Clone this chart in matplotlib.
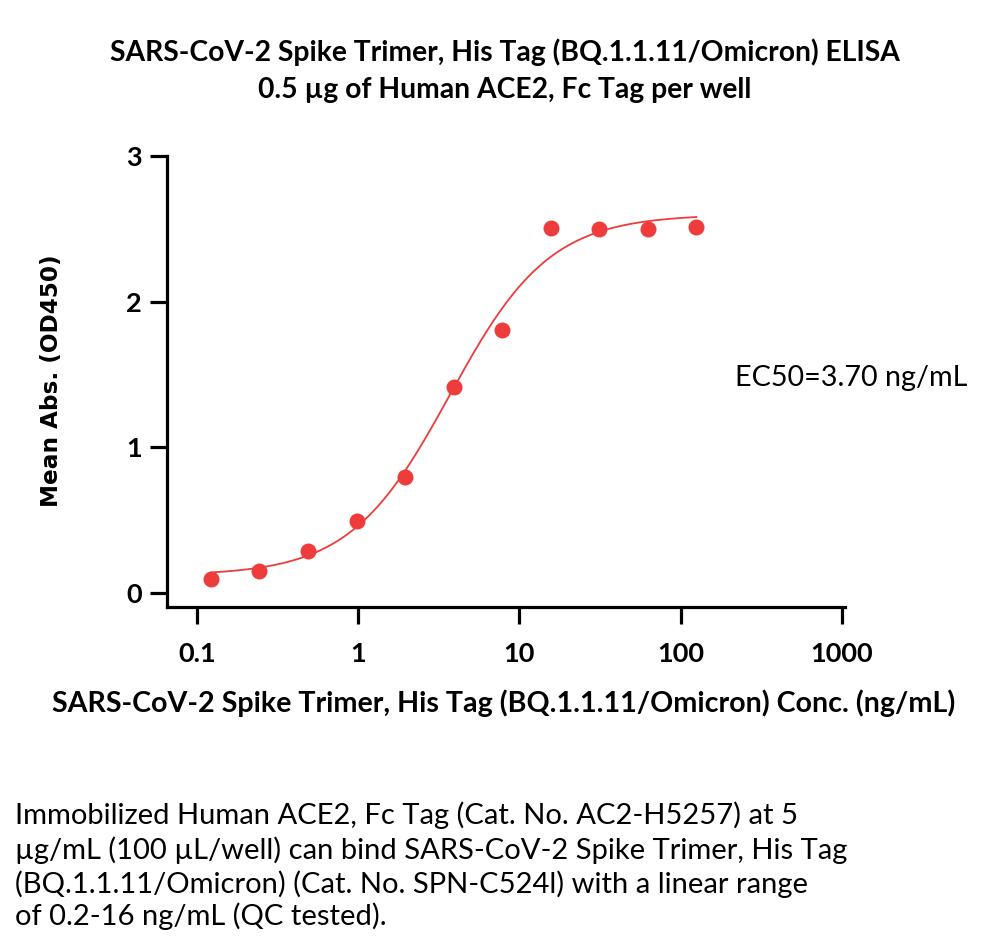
import numpy as np
import matplotlib
matplotlib.use("Agg")
import matplotlib.pyplot as plt

# Data
conc = [0.122, 0.244, 0.488, 0.977, 1.95, 3.91, 7.81, 15.6, 31.25, 62.5, 125.0]
od450 = [0.094, 0.151, 0.290, 0.496, 0.794, 1.412, 1.805, 2.505, 2.500, 2.500, 2.517]

# 4PL fit parameters
fit_bottom = 0.12
fit_top = 2.60
fit_ec50 = 3.70
fit_hill = 1.40

x_ticks = [0.1, 1, 10, 100, 1000]
x_tick_labels = ["0.1", "1", "10", "100", "1000"]
y_ticks = [0, 1, 2, 3]
y_tick_labels = ["0", "1", "2", "3"]

title1 = "SARS-CoV-2 Spike Trimer, His Tag (BQ.1.1.11/Omicron) ELISA"
title2 = "0.5 \u00b5g of Human ACE2, Fc Tag per well"
xlabel = "SARS-CoV-2 Spike Trimer, His Tag (BQ.1.1.11/Omicron) Conc. (ng/mL)"
ylabel = "Mean Abs. (OD450)"
ec50_text = "EC50=3.70 ng/mL"
caption = ["Immobilized Human ACE2, Fc Tag (Cat. No. AC2-H5257) at 5",
           "\u00b5g/mL (100 \u00b5L/well) can bind SARS-CoV-2 Spike Trimer, His Tag",
           "(BQ.1.1.11/Omicron) (Cat. No. SPN-C524l) with a linear range",
           "of 0.2-16 ng/mL (QC tested)."]

red = "#EE3B3B"
font = "Lato"

fig = plt.figure(figsize=(10, 9.41), dpi=100)
ax = fig.add_axes([0.167, 0.355, 0.678, 0.479])

xs = np.logspace(np.log10(conc[0]), np.log10(conc[-1]), 400)
ys = fit_bottom + (fit_top - fit_bottom) / (1 + (fit_ec50 / xs) ** fit_hill)
ax.plot(xs, ys, color=red, lw=1.3, zorder=2)
ax.plot(conc, od450, 'o', color=red, ms=11.5, mec='none', zorder=3, clip_on=False)

ax.set_xscale('log')
ax.set_xlim(10 ** -1.186, 10 ** 3.019)
ax.set_ylim(-0.096, 3.0)
ax.set_xticks(x_ticks)
ax.set_xticklabels(x_tick_labels)
ax.xaxis.set_minor_locator(matplotlib.ticker.NullLocator())
ax.set_yticks(y_ticks)
ax.set_yticklabels(y_tick_labels)

for s in ['top', 'right']:
    ax.spines[s].set_visible(False)
for s in ['left', 'bottom']:
    ax.spines[s].set_linewidth(2.3)
    ax.spines[s].set_color('black')
ax.spines['left'].set_bounds(-0.096, 3.0)

ax.tick_params(axis='both', length=12, width=2.3, color='black')
ax.tick_params(axis='x', pad=13)
ax.tick_params(axis='y', pad=6)
for lab in ax.get_xticklabels() + ax.get_yticklabels():
    lab.set_fontfamily(font)
    lab.set_fontweight('bold')
    lab.set_fontsize(19.5)

fig.text(0.505, 1 - 52 / 941, title1, ha='center', va='center', fontsize=20.3,
         fontweight='bold', family=font)
fig.text(0.505, 1 - 90 / 941, title2, ha='center', va='center', fontsize=20.3,
         fontweight='bold', family=font)
fig.text(0.504, 1 - 703 / 941, xlabel, ha='center', va='center', fontsize=20.6,
         fontweight='bold', family=font)
fig.text(0.052, 1 - 381 / 941, ylabel, ha='center', va='center', rotation=90,
         fontsize=16.7, fontweight='bold', family='DejaVu Sans')
fig.text(0.735, 1 - 378 / 941, ec50_text, ha='left', va='center', fontsize=20.7,
         family=font)

cap_y = [815, 850, 884, 916]
for line, yy in zip(caption, cap_y):
    fig.text(0.015, 1 - yy / 941, line, ha='left', va='center', fontsize=21,
             family=font)

fig.savefig("out.png", dpi=100, facecolor='white')
